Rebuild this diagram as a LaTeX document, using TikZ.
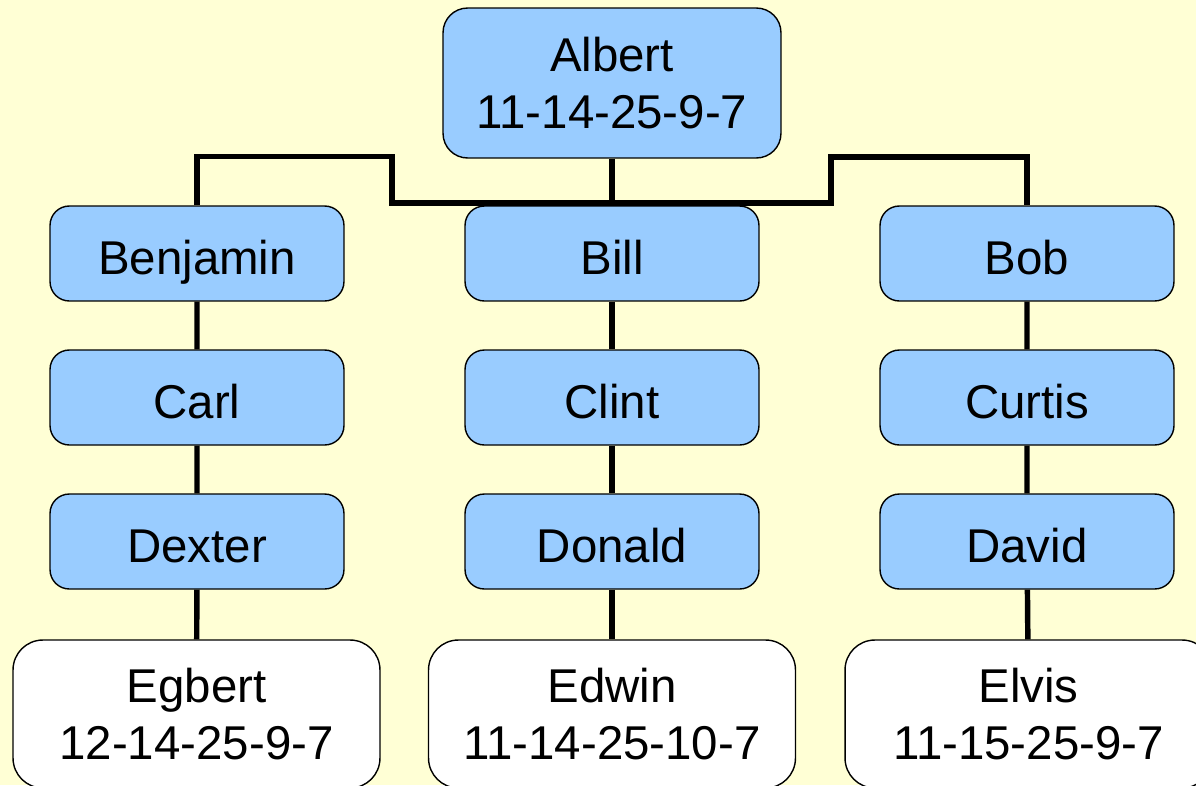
\documentclass[tikz,border=0pt]{standalone}
\usepackage{fontspec}
\setmainfont{Liberation Sans}
\usetikzlibrary{backgrounds}
\definecolor{paper}{RGB}{255,255,213}
\definecolor{boxblue}{RGB}{153,204,255}
\begin{document}
\begin{tikzpicture}[x=0.02cm,y=-0.02cm,
    box/.style={draw, thick, fill=boxblue, rounded corners=11pt, inner sep=0pt,
      font=\fontsize{27}{32.5}\selectfont},
    person/.style={box, minimum width=5.88cm, minimum height=1.9cm,
      text height=26pt, text depth=2.2pt},
    root/.style={box, align=center, rounded corners=14pt, minimum width=6.76cm, minimum height=3cm},
    leaf/.style={root, fill=white, rounded corners=17pt, minimum width=7.34cm, minimum height=2.96cm},
    link/.style={line width=3.1pt, line join=miter}]
    \useasboundingbox (0,0) rectangle (1196,785);

    % generation 1
    \node[root] (albert) at (612,83) {Albert\\11-14-25-9-7};

    % generations 2 to 4
    \foreach \x\a\b\c in {
        197/Benjamin/Carl/Dexter,
        612/Bill/Clint/Donald,
        1027/Bob/Curtis/David}{
      \node[person] (\a) at (\x,253.5) {\a};
      \node[person] (\b) at (\x,397.5) {\b};
      \node[person] (\c) at (\x,541.5) {\c};
    }

    % generation 5
    \node[leaf] (Egbert) at (196.5,714) {Egbert\\12-14-25-9-7};
    \node[leaf] (Edwin) at (612,714) {Edwin\\11-14-25-10-7};
    \node[leaf] (Elvis) at (1028.5,714) {Elvis\\11-15-25-9-7};

    \begin{scope}[on background layer]
      % background
      \fill[paper] (0,0) rectangle (1196,785);
      \draw[link] (albert) -- (Bill);
      \draw[link] (Benjamin.north) -- ++(0,-49) -| (392,203) -| (831,157) -| (Bob.north);
      \draw[link] (Benjamin) -- (Carl) -- (Dexter) -- (Egbert);
      \draw[link] (Bill) -- (Clint) -- (Donald) -- (Edwin);
      \draw[link] (Bob) -- (Curtis) -- (David) -- (Elvis);
    \end{scope}
\end{tikzpicture}
\end{document}
